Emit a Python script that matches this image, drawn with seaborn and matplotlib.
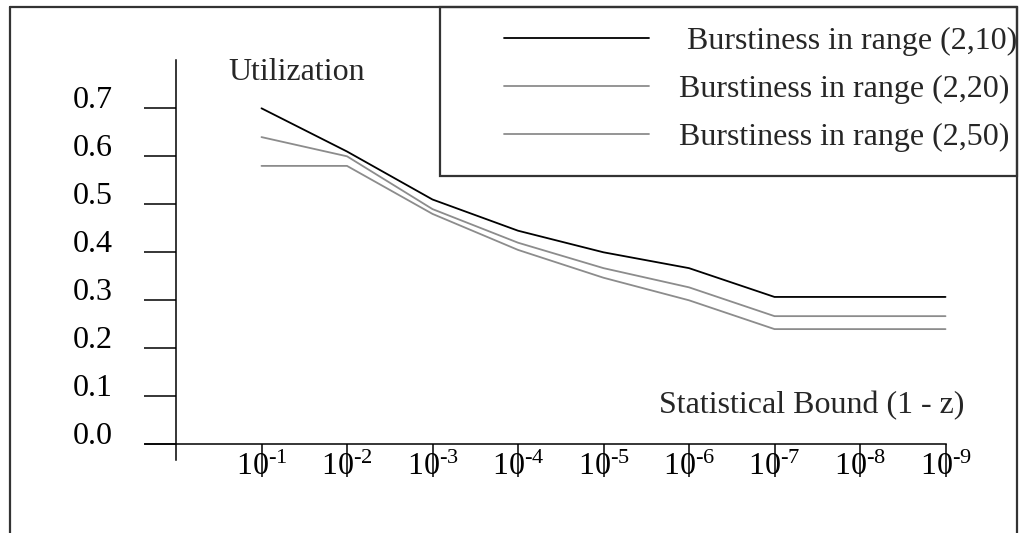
import pandas as pd
import numpy as np
import matplotlib
matplotlib.use("Agg")
import matplotlib.pyplot as plt
import seaborn as sns
from matplotlib.lines import Line2D
from matplotlib.patches import Rectangle

# datos
bounds = [1, 2, 3, 4, 5, 6, 7, 8, 9]
bound_labels = [r'$\mathregular{10^{\text{-}%d}}$' % b for b in bounds]
util_2_10 = [0.70, 0.61, 0.51, 0.445, 0.40, 0.367, 0.307, 0.307, 0.307]
util_2_20 = [0.64, 0.60, 0.49, 0.42, 0.367, 0.327, 0.267, 0.267, 0.267]
util_2_50 = [0.58, 0.58, 0.48, 0.405, 0.347, 0.30, 0.24, 0.24, 0.24]
series = [' Burstiness in range (2,10)', 'Burstiness in range (2,20)', 'Burstiness in range (2,50)']
y_ticks = [0.0, 0.1, 0.2, 0.3, 0.4, 0.5, 0.6, 0.7]

df = pd.DataFrame({
    'bound': bounds * 3,
    'util': util_2_10 + util_2_20 + util_2_50,
    'serie': [series[0]] * 9 + [series[1]] * 9 + [series[2]] * 9,
})

sns.set_style('white')
plt.rcParams['font.family'] = ['Liberation Serif', 'DejaVu Serif']
plt.rcParams['mathtext.fontset'] = 'custom'
plt.rcParams['mathtext.rm'] = 'Liberation Serif'
plt.rcParams['mathtext.it'] = 'Liberation Serif:italic'

W, H = 1019, 533
fig = plt.figure(figsize=(W / 100, H / 100), dpi=100)
ax = fig.add_axes([0, 0, 1, 1])

# escala: x=0 en px 176, 85.5 px por decada; y=0 en px 444.3, 480 px por unidad
x0, dx = 176, 85.5
y0, dy = 444.3, 480
ax.set_xlim(-x0 / dx, (W - x0) / dx)
ax.set_ylim((y0 - H) / dy, y0 / dy)

palette = {series[0]: '#000000', series[1]: '#8c8c8c', series[2]: '#8c8c8c'}
sns.lineplot(data=df, x='bound', y='util', hue='serie', palette=palette,
             linewidth=1.3, ax=ax, legend=False)
ax.set_xlabel('')
ax.set_ylabel('')

# ejes
for s in ['top', 'right']:
    ax.spines[s].set_visible(False)
ax.spines['left'].set_position(('data', 0))
ax.spines['bottom'].set_position(('data', 0))
ax.spines['left'].set_bounds((y0 - 460) / dy, (y0 - 60) / dy)
ax.spines['bottom'].set_bounds((145 - x0) / dx, 9)
for s in ['left', 'bottom']:
    ax.spines[s].set_color('black')
    ax.spines[s].set_linewidth(1.1)

fs = 23
ax.set_yticks(y_ticks, [f'{v:.1f}' for v in y_ticks])
ax.tick_params(axis='y', direction='out', length=22.8, width=1.1, color='black',
               pad=23, labelsize=fs, labelcolor='black', left=True)
for lab in ax.get_yticklabels():
    lab.set_va('baseline')
ax.set_xticks(bounds, bound_labels)
ax.tick_params(axis='x', direction='out', length=23.8, width=1.1, color='black',
               pad=-17.5, labelsize=fs, labelcolor='black', bottom=True)
ax.grid(False)

fig.text(228 / W, 1 - 80 / H, 'Utilization', fontsize=fs, ha='left', va='baseline')
fig.text(659 / W, 1 - 413 / H, 'Statistical Bound (1 - z)', fontsize=fs, ha='left', va='baseline')

# marco exterior y caja de la leyenda
frame_col = '#333333'
fig.add_artist(Line2D([10 / W, 10 / W], [0, 1 - 7 / H], color=frame_col, lw=1.6, transform=fig.transFigure))
fig.add_artist(Line2D([10 / W, 1017 / W], [1 - 7 / H, 1 - 7 / H], color=frame_col, lw=1.6, transform=fig.transFigure))
fig.add_artist(Line2D([1017 / W, 1017 / W], [0, 1 - 7 / H], color=frame_col, lw=1.6, transform=fig.transFigure))
fig.add_artist(Rectangle((440 / W, 1 - 175.5 / H), (1017 - 440) / W, (175.5 - 7) / H,
                         fill=False, edgecolor=frame_col, lw=1.6, transform=fig.transFigure))

em = fs / 0.72
handles = [Line2D([], [], color=palette[s], lw=1.3) for s in series]
ax.legend(handles, series, loc='upper left', bbox_to_anchor=(504 / W, 1 - 26.5 / H),
          bbox_transform=fig.transFigure, frameon=False, fontsize=fs,
          handlelength=145 / em, handletextpad=30 / em, borderpad=0,
          borderaxespad=0, labelspacing=0.585)

fig.savefig('out.png', dpi=100)
